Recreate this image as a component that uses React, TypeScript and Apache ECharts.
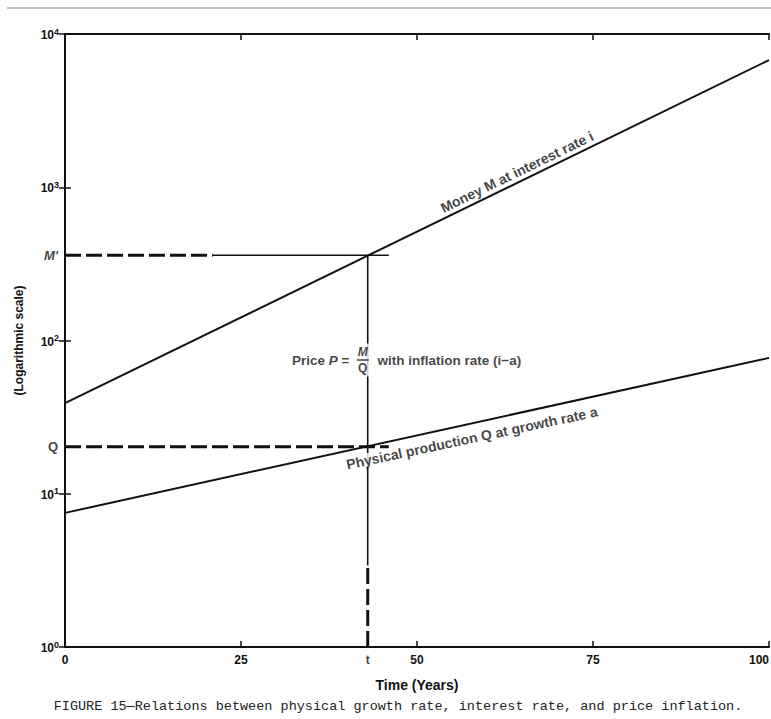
import React, { useEffect, useRef } from "react";
import * as echarts from "echarts";

// ---- data ----
const YEARS = [0, 100];
const MONEY = [39, 6760]; // Money M at interest rate i
const PRODUCTION = [7.5, 77]; // Physical production Q at growth rate a
const T_YEAR = 43;
const M_PRIME = 360;
const Q_LEVEL = 20.3;
const M_GUIDE_DASH_END = 21;
const GUIDE_END = 46;
const T_DASH_TOP = 3.4;
const X_MIN = 0;
const X_MAX = 100;
const X_INTERVAL = 25;
const Y_MIN = 1;
const Y_MAX = 10000;
const Y_TICK_EXPONENTS: Record<string, string> = {
  "1": "0",
  "10": "1",
  "100": "2",
  "1000": "3",
  "10000": "4",
};
const CAPTION =
  "FIGURE 15—Relations between physical growth rate, interest rate, and price inflation.";

const FONT = '"Liberation Sans", "DejaVu Sans", sans-serif';

export default function App() {
  const ref = useRef<HTMLDivElement>(null);

  useEffect(() => {
    if (!ref.current) return;
    const chart = echarts.init(ref.current, null, { renderer: "svg" });

    const line = (data: number[][], width: number, dashed: boolean, z = 2) => ({
      type: "line",
      data,
      symbol: "none",
      silent: true,
      z,
      lineStyle: {
        color: "#111",
        width,
        type: dashed ? [16, 5] : "solid",
      },
    });

    const black = { color: "#111", fontFamily: FONT };

    chart.setOption({
      animation: false,
      backgroundColor: "#fff",
      textStyle: { fontFamily: FONT },
      grid: { left: 65, right: 2, top: 34, bottom: 72, containLabel: false, outerBoundsMode: "none" },
      xAxis: [
        {
          type: "value",
          min: X_MIN,
          max: X_MAX,
          interval: X_INTERVAL,
          name: "Time (Years)",
          nameLocation: "middle",
          nameGap: 31,
          nameTextStyle: { ...black, fontSize: 14, fontWeight: "bold" },
          axisLine: { show: true, lineStyle: { color: "#111", width: 2 } },
          axisTick: { show: true, inside: true, length: 6, lineStyle: { color: "#111", width: 1.5 } },
          axisLabel: { ...black, fontSize: 12, fontWeight: "bold", margin: 7, alignMaxLabel: "right" },
          splitLine: { show: false },
        },
        {
          type: "value",
          position: "top",
          min: X_MIN,
          max: X_MAX,
          interval: X_INTERVAL,
          axisLine: { show: true, lineStyle: { color: "#111", width: 2 } },
          axisTick: { show: true, inside: true, length: 6, lineStyle: { color: "#111", width: 1.5 } },
          axisLabel: { show: false },
          splitLine: { show: false },
        },
      ],
      yAxis: [
        {
          type: "log",
          logBase: 10,
          min: Y_MIN,
          max: Y_MAX,
          name: "(Logarithmic scale)",
          nameLocation: "middle",
          nameGap: 40,
          nameTextStyle: { ...black, fontSize: 12, fontWeight: "bold" },
          axisLine: { show: true, lineStyle: { color: "#111", width: 2 } },
          axisTick: { show: true, inside: true, length: 6, lineStyle: { color: "#111", width: 1.5 } },
          axisLabel: {
            ...black,
            fontSize: 12,
            fontWeight: "bold",
            margin: 6,
            formatter: (v: number) => {
              const e = Y_TICK_EXPONENTS[String(Math.round(v))];
              return e === undefined ? "" : `{b|10}{s|${e}}`;
            },
            rich: {
              b: { fontSize: 12, fontWeight: "bold", fontFamily: FONT, color: "#111", lineHeight: 14, verticalAlign: "bottom" },
              s: { fontSize: 9, fontWeight: "bold", fontFamily: FONT, color: "#111", lineHeight: 14, verticalAlign: "top", padding: [0, 0, 6, 0] },
            },
          },
          splitLine: { show: false },
          minorTick: { show: false },
        },
        {
          type: "log",
          logBase: 10,
          min: Y_MIN,
          max: Y_MAX,
          position: "right",
          axisLine: { show: true, lineStyle: { color: "#111", width: 2 } },
          axisTick: { show: true, inside: true, length: 6, lineStyle: { color: "#111", width: 1.5 } },
          axisLabel: { show: false },
          splitLine: { show: false },
        },
      ],
      series: [
        line(YEARS.map((x, i) => [x, MONEY[i]]), 2, false),
        line(YEARS.map((x, i) => [x, PRODUCTION[i]]), 2, false),
        line([[X_MIN, M_PRIME], [M_GUIDE_DASH_END, M_PRIME]], 3, true),
        line([[M_GUIDE_DASH_END, M_PRIME], [GUIDE_END, M_PRIME]], 1.3, false),
        line([[X_MIN, Q_LEVEL], [GUIDE_END, Q_LEVEL]], 3, true),
        line([[T_YEAR, T_DASH_TOP], [T_YEAR, M_PRIME]], 1.6, false),
        line([[T_YEAR, Y_MIN], [T_YEAR, T_DASH_TOP]], 3, true),
        {
          type: "scatter",
          symbolSize: 0,
          silent: true,
          clip: false,
          z: 10,
          data: [
            {
              value: [X_MIN, M_PRIME],
              label: { show: true, position: "left", distance: 7, formatter: "M'", ...black, fontSize: 13, fontWeight: "bold", fontStyle: "italic" },
            },
            {
              value: [X_MIN, Q_LEVEL],
              label: { show: true, position: "left", distance: 7, formatter: "Q", ...black, fontSize: 13, fontWeight: "bold" },
            },
            {
              value: [T_YEAR, Y_MIN],
              label: { show: true, position: "bottom", distance: 7, formatter: "t", ...black, fontSize: 12, fontWeight: "bold" },
            },
            {
              value: [64.2, 1259],
              label: {
                show: true,
                position: "inside",
                rotate: 26,
                formatter: "Money M at interest rate i",
                ...black,
                fontSize: 14,
                fontWeight: "bold",
              },
            },
            {
              value: [57.8, 23.1],
              label: {
                show: true,
                position: "inside",
                rotate: 12,
                formatter: "Physical production Q at growth rate a",
                ...black,
                fontSize: 14,
                fontWeight: "bold",
                backgroundColor: "#fff",
                padding: [0, 2],
              },
            },
            {
              value: [40.4, 74.6],
              label: { show: true, position: "left", distance: 0, formatter: "Price {i|P} =", ...black, fontSize: 13.5, fontWeight: "bold", rich: { i: { fontStyle: "italic", fontSize: 13.5, fontWeight: "bold", fontFamily: FONT, color: "#111" } } },
            },
            {
              value: [42.3, 74.6],
              label: {
                show: true,
                position: "inside",
                formatter: "{m|M}\n{bar|}\n{q|Q}",
                backgroundColor: "#fff",
                padding: [2, 6],
                ...black,
                rich: {
                  m: { fontSize: 12, fontWeight: "bold", fontStyle: "italic", fontFamily: FONT, color: "#111", lineHeight: 13, align: "center" },
                  bar: { width: 12, height: 1.5, backgroundColor: "#111", lineHeight: 3, align: "center" },
                  q: { fontSize: 12, fontWeight: "bold", fontFamily: FONT, color: "#111", lineHeight: 13, align: "center" },
                },
              },
            },
            {
              value: [44.4, 74.6],
              label: { show: true, position: "right", distance: 0, formatter: "with inflation rate (i−a)", ...black, fontSize: 13.5, fontWeight: "bold" },
            },
          ],
        },
      ],
      graphic: [
        {
          type: "line",
          shape: { x1: 7, y1: 8, x2: 771, y2: 8 },
          style: { stroke: "#c4c4c4", lineWidth: 2 },
          silent: true,
        },
        {
          type: "text",
          x: 398,
          y: 706,
          style: {
            text: CAPTION,
            fontSize: 13.5,
            fontFamily: '"Liberation Mono", "DejaVu Sans Mono", monospace',
            fill: "#222",
            align: "center",
            verticalAlign: "middle",
          },
          silent: true,
        },
      ],
    });

    return () => chart.dispose();
  }, []);

  return (
    <div
      ref={ref}
      style={{ position: "fixed", left: 0, top: 0, width: 771, height: 719, background: "#fff" }}
    />
  );
}
